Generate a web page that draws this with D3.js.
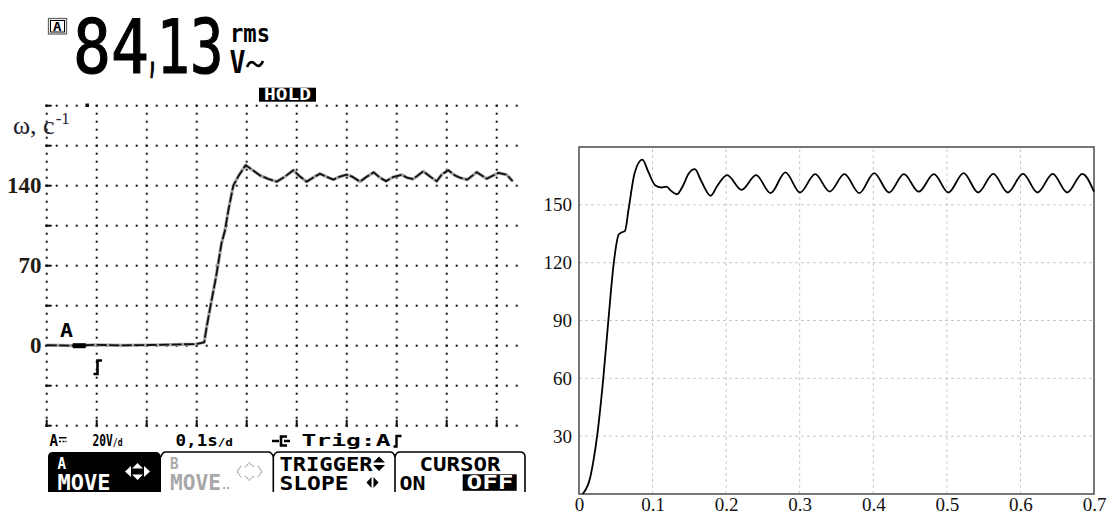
<!DOCTYPE html>
<html><head><meta charset="utf-8">
<script src="https://cdn.jsdelivr.net/npm/d3@7/dist/d3.min.js"></script>
<style>
html,body{margin:0;padding:0;background:#fff;}
svg{display:block;}
</style></head>
<body>
<svg id="c" width="1107" height="515"></svg>
<script>
// ---------- DATA ----------
// Oscilloscope record (left): time in s, omega in 1/s
const scopeTime = [0,0.05,0.1,0.15,0.2,0.25,0.3,0.315,0.32,0.3286,0.3386,0.3496,0.3566,0.3634,0.3732,0.3842,0.398,
  0.4106,0.4266,0.4426,0.46,0.4766,0.4932,0.5066,0.52,0.5326,0.5466,0.5586,0.5732,0.5866,0.6,0.6106,0.6266,0.6406,
  0.654,0.6666,0.6786,0.6926,0.71,0.7206,0.7332,0.7532,0.7666,0.78,0.7906,0.8032,0.8166,0.8266,0.8412,0.86,0.88,
  0.9032,0.92,0.932];
const scopeOmega = [0.5,0,0.8,0.3,0.6,1,1.5,3,16.6,37,60,89.6,101,118.7,140,149,158,
  154,149,146,143.5,148,153.5,148,143.5,147,150.5,148,145.3,148,149.6,148,143.6,148,
  151.7,147,144,147.5,149.6,147,145.8,152.6,148,143.9,150,153.5,149,147,145.3,151.8,146.1,
  151.2,149.6,143.9];
const scopeRows = [-70,-35,0,35,70,105,140,175,210];
const scopeColumns = [0,0.1,0.2,0.3,0.4,0.5,0.6,0.7,0.8,0.9];
const scopeYTicks = [0,70,140];
const scopeYTickLabels = ["0","70","140"];

// Simulation (right): time in s, omega in 1/s
const simTime = [0.005,0.0153,0.0197,0.0246,0.033,0.0399,0.0473,0.0541,0.0576,0.0625,0.0674,0.0758,0.0862,0.0945,
  0.1034,0.1117,0.119,0.125,0.133,0.1413,0.1487,0.1575,0.166,0.179,0.188,0.2013,0.221,0.2407,0.2604,0.2806,0.3003,
  0.321,0.3407,0.3608,0.381,0.4012,0.4214,0.4416,0.4618,0.4824,0.5021,0.5228,0.5425,0.5631,0.5828,0.6035,0.6232,
  0.6439,0.6636,0.6842,0.7];
const simOmega = [0,8.7,17.4,30,60,90,120,134.7,135.6,136.5,147.7,166.8,173.4,166.8,
  160.2,159,159.4,157.3,155.5,159.9,166,168.5,162.5,154.7,159.9,165.4,157.8,165.4,156.1,166.8,156.4,
  165.9,156.9,165.9,156.1,166.5,156.4,165.9,156.8,165.9,156.4,166.5,156.4,166.1,156.4,166.1,156.4,
  166.1,156.4,166.1,156.8];
const simYTicks = [30,60,90,120,150];
const simXTicks = [0,0.1,0.2,0.3,0.4,0.5,0.6,0.7];
const simXTickLabels = ["0","0.1","0.2","0.3","0.4","0.5","0.6","0.7"];

// ---------- DRAW ----------
const svg = d3.select("#c");
const MONO = "'DejaVu Sans Mono', monospace";
const SERIF = "'Liberation Serif', 'Times New Roman', serif";

function ptxt(g, x, base, str, cap, width, fill) {
  return g.append("text").attr("x", x).attr("y", base)
    .attr("font-family", MONO).attr("font-weight", "bold")
    .attr("font-size", cap / 0.729)
    .attr("textLength", width).attr("lengthAdjust", "spacingAndGlyphs")
    .attr("fill", fill || "#000").text(str);
}
// text with a smaller "/d" suffix, one element
function unitTxt(g, x, base, main, cap, width) {
  const t = g.append("text").attr("x", x).attr("y", base)
    .attr("font-family", MONO).attr("font-weight", "bold").attr("font-size", cap / 0.729)
    .attr("textLength", width).attr("lengthAdjust", "spacingAndGlyphs");
  t.append("tspan").text(main);
  t.append("tspan").attr("font-size", cap * 0.72 / 0.729).text("/d");
  return t;
}

// ===== Oscilloscope =====
const scope = svg.append("g");
const sx = d3.scaleLinear().domain([0, 1]).range([46.7, 546.7]);
const sy = d3.scaleLinear().domain([-70, 210]).range([425.7, 105.7]);

// header
const hdr = scope.append("g");
hdr.append("rect").attr("x", 48.5).attr("y", 18.5).attr("width", 18).attr("height", 15.5)
  .attr("fill", "none").attr("stroke", "#666").attr("stroke-width", 1.3);
hdr.append("rect").attr("x", 50.5).attr("y", 20.5).attr("width", 14).attr("height", 11.5)
  .attr("fill", "none").attr("stroke", "#000").attr("stroke-width", 1);
ptxt(hdr, 53, 30.5, "A", 9, 8.5);
// big reading "84,13"
const bigParts = [["84", 73, 76, 73.3, 75.4, 1.2], [",", 148.5, 8, 71, 44, 2.6], ["13", 156.5, 67, 73.3, 75.4, 1.2]];
bigParts.forEach(([s, x, w, y, fs, sw]) => {
  hdr.append("text").attr("x", x).attr("y", y).attr("font-family", MONO)
    .attr("font-weight", s === "," ? "bold" : "normal").attr("font-size", fs)
    .attr("textLength", w).attr("lengthAdjust", "spacingAndGlyphs")
    .attr("stroke", "#000").attr("stroke-width", sw).text(s);
});
hdr.append("text").attr("x", 230).attr("y", 41.7).attr("font-family", MONO).attr("font-weight", "bold")
  .attr("font-size", 24).attr("textLength", 40).attr("lengthAdjust", "spacingAndGlyphs").text("rms");
ptxt(hdr, 229.5, 73.3, "V", 23, 16);
hdr.append("path").attr("d", "M247,67 Q250.5,59 255,64 T263,61").attr("fill", "none")
  .attr("stroke", "#000").attr("stroke-width", 2.6);

// HOLD
hdr.append("rect").attr("x", 259).attr("y", 87.7).attr("width", 57).attr("height", 14).attr("fill", "#000");
hdr.append("text").attr("x", 264).attr("y", 100).attr("font-family", MONO).attr("font-weight", "bold")
  .attr("font-size", 15).attr("textLength", 47).attr("lengthAdjust", "spacingAndGlyphs")
  .attr("fill", "#fff").text("HOLD");

// grid
const grid = scope.append("g").attr("fill", "#111");
const rowDots = d3.range(48).map(i => i * 0.02);
scopeRows.forEach(r => {
  grid.selectAll(null).data(rowDots).join("rect")
    .attr("x", d => sx(d) - 1).attr("y", sy(r) - 1).attr("width", 2).attr("height", 2);
  grid.append("rect").attr("x", sx(0) - 1.5).attr("y", sy(r) - 1).attr("width", 6.5).attr("height", 2);
});
const colDots = d3.range(-70, 211, 7);
scopeColumns.forEach(c => {
  grid.selectAll(null).data(colDots).join("rect")
    .attr("x", d => sx(c) - 1).attr("y", d => sy(d) - 1).attr("width", 2).attr("height", 2);
  grid.append("rect").attr("x", sx(c) - 1).attr("y", sy(-70) - 6).attr("width", 2).attr("height", 7);
});
grid.append("rect").attr("x", 85.5).attr("y", 103.5).attr("width", 3.5).attr("height", 3.5);

// y labels
const wl = scope.append("text").attr("x", 13).attr("y", 134).attr("font-family", SERIF).attr("font-size", 26)
  .attr("fill", "#1d2230");
wl.append("tspan").text("ω, c");
wl.append("tspan").attr("dx", 1).attr("dy", -10).attr("font-size", 17).text("-1");
scope.selectAll(null).data(scopeYTicks).join("text")
  .attr("x", 41.5).attr("y", d => sy(d) + 7.5).attr("text-anchor", "end")
  .attr("font-family", SERIF).attr("font-weight", "bold").attr("font-size", 23)
  .attr("fill", "#221d14").text((d, i) => scopeYTickLabels[i]);

// trace
const sLine = d3.line().x((d, i) => sx(scopeTime[i])).y((d, i) => sy(scopeOmega[i]));
scope.append("path").datum(scopeOmega).attr("d", sLine).attr("fill", "none")
  .attr("stroke", "#a5a5a5").attr("stroke-width", 3.2).attr("stroke-linejoin", "round");
scope.append("path").datum(scopeOmega).attr("d", sLine).attr("fill", "none")
  .attr("stroke", "#111").attr("stroke-width", 1.8).attr("stroke-dasharray", "10,2.5")
  .attr("stroke-linejoin", "round");

// channel & trigger markers
scope.append("rect").attr("x", 72.7).attr("y", sy(0) - 2.5).attr("width", 13).attr("height", 5).attr("fill", "#000");
ptxt(scope, 60, 337, "A", 14, 13);
scope.append("path").attr("d", "M93.5,374 H97.5 V360.5 H102").attr("fill", "none")
  .attr("stroke", "#000").attr("stroke-width", 2.6);

// status line
const st = scope.append("g");
ptxt(st, 49.5, 446, "A", 11.5, 8.5);
st.append("rect").attr("x", 59).attr("y", 437).attr("width", 7.5).attr("height", 1.5);
st.append("path").attr("d", "M59,441.5 H61 M62.5,441.5 H64.5 M65.5,441.5 H66.5").attr("stroke", "#000").attr("stroke-width", 1.5);
unitTxt(st, 92.5, 446, "20V", 11.5, 30);
unitTxt(st, 175.5, 446, "0,1s", 11.5, 57.5);
st.append("path").attr("d", "M272,441 H279 M287,436.5 H281 V445.5 H287 M284,441 H290").attr("fill", "none")
  .attr("stroke", "#000").attr("stroke-width", 2.6);
ptxt(st, 301.5, 446, "Trig:A", 11.5, 89);
st.append("path").attr("d", "M393.5,446.5 H396.5 V436 H401.5").attr("fill", "none")
  .attr("stroke", "#000").attr("stroke-width", 2.4);

// menu tabs
const mn = scope.append("g");
mn.append("path").attr("d", "M48,492 V457 Q48,452 53,452 H156 Q160,452 161,457 V492 Z").attr("fill", "#000");
ptxt(mn, 57.5, 468.5, "A", 12, 8.5, "#fff");
ptxt(mn, 57.5, 490, "MOVE", 15, 53, "#fff");
mn.append("path").attr("d",
  "M125,471.5 L131,466 V477 Z M150,471.5 L144,466 V477 Z M137.5,463 L132,468.5 H143 Z M137.5,480 L132,474.5 H143 Z")
  .attr("fill", "#fff");
mn.append("path").attr("d",
  "M161,457 Q162,452 166,452 H268 Q272,452 273.3,457 V492 M273.3,457 Q274.5,452 279,452 H390 Q394,452 395,457 V492 M395,457 Q396,452 400,452 H520 Q525,452 525,457 V492")
  .attr("fill", "none").attr("stroke", "#000").attr("stroke-width", 1.6);
ptxt(mn, 170, 468.5, "B", 12, 8.5, "#a8a8a8");
ptxt(mn, 170, 490, "MOVE", 15, 51, "#a8a8a8");
mn.append("rect").attr("x", 223).attr("y", 487).attr("width", 2).attr("height", 2).attr("fill", "#aaa");
mn.append("rect").attr("x", 227).attr("y", 487).attr("width", 2).attr("height", 2).attr("fill", "#aaa");
mn.append("path").attr("d", "M241,466 L237,471.5 L241,477 M258,466 L262,471.5 L258,477 M245,467 L249.5,463 L254,467 M245,476 L249.5,480 L254,476")
  .attr("fill", "none").attr("stroke", "#a8a8a8").attr("stroke-width", 1.6).attr("stroke-dasharray", "1.5,1");
ptxt(mn, 279.5, 470.5, "TRIGGER", 14, 93);
mn.append("path").attr("d", "M379,456.5 L385,462.5 H373 Z M379,471 L385,465 H373 Z").attr("fill", "#000");
ptxt(mn, 279.5, 489.5, "SLOPE", 14, 69);
mn.append("path").attr("d", "M366.5,482.5 L371.5,477 V488 Z M378.5,482.5 L373.5,477 V488 Z").attr("fill", "#000");
ptxt(mn, 419.5, 470.5, "CURSOR", 14, 81);
ptxt(mn, 399.5, 489.5, "ON", 14, 26);
mn.append("rect").attr("x", 462.7).attr("y", 474.3).attr("width", 54).attr("height", 16.5).attr("fill", "#000");
ptxt(mn, 466.5, 489.2, "OFF", 14, 47, "#fff");

// ===== Simulation chart =====
const rc = svg.append("g");
const rx = d3.scaleLinear().domain([0, 0.7]).range([579, 1094]);
const ry = d3.scaleLinear().domain([0, 180]).range([494, 147]);

// grid
rc.append("g").selectAll("line").data(simXTicks.slice(1, -1)).join("line")
  .attr("x1", d => rx(d)).attr("x2", d => rx(d)).attr("y1", ry(0)).attr("y2", ry(180))
  .attr("stroke", "#c8c8c8").attr("stroke-width", 1).attr("stroke-dasharray", "3,3");
rc.append("g").selectAll("line").data(simYTicks).join("line")
  .attr("x1", rx(0)).attr("x2", rx(0.7)).attr("y1", d => ry(d)).attr("y2", d => ry(d))
  .attr("stroke", "#c8c8c8").attr("stroke-width", 1).attr("stroke-dasharray", "3,3");

// frame
rc.append("rect").attr("x", rx(0)).attr("y", ry(180)).attr("width", rx(0.7) - rx(0)).attr("height", ry(0) - ry(180))
  .attr("fill", "none").attr("stroke", "#4a4a4a").attr("stroke-width", 1.5);

// axes
const yAx = rc.append("g").attr("transform", `translate(${rx(0)},0)`)
  .call(d3.axisLeft(ry).tickValues(simYTicks).tickSize(0).tickPadding(7));
const xAx = rc.append("g").attr("transform", `translate(0,${ry(0)})`)
  .call(d3.axisBottom(rx).tickValues(simXTicks).tickSize(0).tickPadding(4).tickFormat((d, i) => simXTickLabels[i]));
[yAx, xAx].forEach(a => {
  a.select(".domain").remove();
  a.selectAll("text").attr("font-family", SERIF).attr("font-size", 19).attr("fill", "#111");
});

// curve
const rLine = d3.line().curve(d3.curveMonotoneX).x((d, i) => rx(simTime[i])).y((d, i) => ry(simOmega[i]));
rc.append("path").datum(simOmega).attr("d", rLine).attr("fill", "none")
  .attr("stroke", "#000").attr("stroke-width", 1.8).attr("stroke-linejoin", "round");
</script>
</body></html>
